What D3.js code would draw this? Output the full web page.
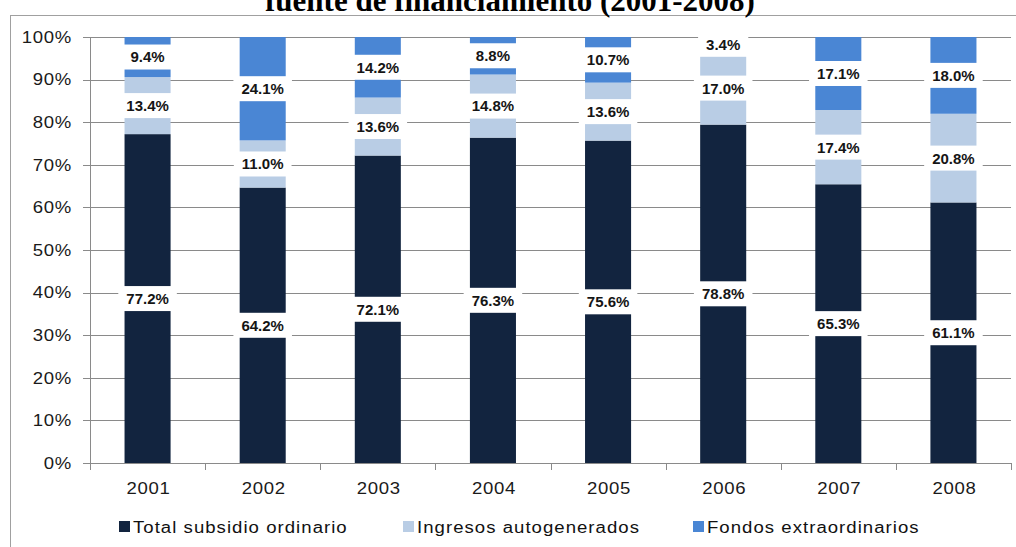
<!DOCTYPE html>
<html>
<head>
<meta charset="utf-8">
<script src="https://cdnjs.cloudflare.com/ajax/libs/d3/7.8.5/d3.min.js"></script>
<style>
  html, body { margin: 0; padding: 0; background: #fff; }
  svg { display: block; }
</style>
</head>
<body>
<div id="chart"></div>
<script>
// Years on the x axis
const years = ['2001', '2002', '2003', '2004', '2005', '2006', '2007', '2008'];

// Share of each source (%)
const subsidioOrdinario = [77.2, 64.2, 72.1, 76.3, 75.6, 78.8, 65.3, 61.1];
const ingresosAutogenerados = [13.4, 11.0, 13.6, 14.8, 13.6, 17.0, 17.4, 20.8];
const fondosExtraordinarios = [9.4, 24.1, 14.2, 8.8, 10.7, 3.4, 17.1, 18.0];

const seriesNames = ['Total subsidio ordinario', 'Ingresos autogenerados', 'Fondos extraordinarios'];
const yTicks = [0, 10, 20, 30, 40, 50, 60, 70, 80, 90, 100];
const titleText = 'fuente de financiamiento (2001-2008)';

function financingChart() {
  const width = 1016;
  const height = 547;

  const colors = ['#12243f', '#b9cde5', '#4a86d4'];
  const sansFont = '"Liberation Sans", Arial, sans-serif';
  // the source picture is stretched a little horizontally
  const stretch = 'scale(1.16,1)';

  const left = 90;
  const right = 1011;
  const top = 37;
  const bottom = 463;

  let svg = d3.select('#chart')
    .append('svg')
      .attr('width', width)
      .attr('height', height);

  // outer frame
  svg.append('rect')
      .attr('x', 10.5)
      .attr('y', 15.5)
      .attr('width', 1030)
      .attr('height', 560)
      .attr('fill', '#fff')
      .attr('stroke', '#a0a0a0');

  // title, cut at the top edge like the source
  svg.append('text')
      .attr('x', 510)
      .attr('y', 11)
      .attr('text-anchor', 'middle')
      .attr('font-family', '"Liberation Serif", "Times New Roman", serif')
      .attr('font-weight', 'bold')
      .attr('font-size', 31)
      .attr('fill', '#000')
      .text(titleText);

  let rows = years.map(function(year, i) {
    return {
      year: year,
      s0: subsidioOrdinario[i],
      s1: ingresosAutogenerados[i],
      s2: fondosExtraordinarios[i],
    };
  });

  let stack = d3.stack()
      .keys(['s0', 's1', 's2'])
      .offset(d3.stackOffsetExpand);
  let stacked = stack(rows);

  let x = d3.scaleBand()
      .domain(years)
      .range([left, right])
      .paddingInner(0.6)
      .paddingOuter(0.3);

  let y = d3.scaleLinear()
      .domain([0, 1])
      .range([bottom, top]);

  let g = svg.append('g');

  // horizontal grid lines + y ticks
  g.selectAll('line.grid')
      .data(yTicks)
    .enter()
    .append('line')
      .attr('class', 'grid')
      .attr('x1', left - 7)
      .attr('x2', right)
      .attr('y1', function(d) {
        return Math.round(y(d / 100)) + 0.5;
      })
      .attr('y2', function(d) {
        return Math.round(y(d / 100)) + 0.5;
      })
      .attr('stroke', '#8a8a8a')
      .attr('stroke-width', 1);

  g.selectAll('text.ylab')
      .data(yTicks)
    .enter()
    .append('text')
      .attr('class', 'ylab')
      .attr('transform', function(d) {
        return 'translate(72,' + y(d / 100) + ') ' + stretch;
      })
      .attr('dy', '0.36em')
      .attr('text-anchor', 'end')
      .attr('font-family', sansFont)
      .attr('font-size', 16)
      .attr('letter-spacing', 0.6)
      .attr('fill', '#1a1a1a')
      .text(function(d) {
        return d + '%';
      });

  // y axis line
  g.append('line')
      .attr('x1', left + 0.5)
      .attr('x2', left + 0.5)
      .attr('y1', top)
      .attr('y2', bottom + 7)
      .attr('stroke', '#8a8a8a');

  // x ticks at band boundaries
  let step = x.step();
  let boundaries = d3.range(years.length + 1).map(function(i) {
    return left + i * step;
  });
  g.selectAll('line.xtick')
      .data(boundaries)
    .enter()
    .append('line')
      .attr('class', 'xtick')
      .attr('x1', function(d) { return Math.round(d) + 0.5; })
      .attr('x2', function(d) { return Math.round(d) + 0.5; })
      .attr('y1', bottom)
      .attr('y2', bottom + 7)
      .attr('stroke', '#8a8a8a');

  g.selectAll('text.xlab')
      .data(years)
    .enter()
    .append('text')
      .attr('class', 'xlab')
      .attr('transform', function(d) {
        return 'translate(' + (x(d) + x.bandwidth() / 2 + 1) + ',494) ' + stretch;
      })
      .attr('text-anchor', 'middle')
      .attr('font-family', sansFont)
      .attr('font-size', 16)
      .attr('letter-spacing', 0.6)
      .attr('fill', '#1a1a1a')
      .text(function(d) {
        return d;
      });

  // bars
  let layers = g.selectAll('g.layer')
      .data(stacked)
    .enter()
    .append('g')
      .attr('class', 'layer')
      .attr('fill', function(d, i) {
        return colors[i];
      });

  layers.selectAll('rect')
      .data(function(d) {
        return d;
      })
    .enter()
    .append('rect')
      .attr('x', function(d) {
        return x(d.data.year);
      })
      .attr('y', function(d) {
        return y(d[1]);
      })
      .attr('width', x.bandwidth())
      .attr('height', function(d) {
        return y(d[0]) - y(d[1]);
      });

  // value labels in white boxes
  let labels = [];
  stacked.forEach(function(layer) {
    layer.forEach(function(d) {
      labels.push({
        year: d.data.year,
        mid: (d[0] + d[1]) / 2,
        value: d.data[layer.key],
      });
    });
  });

  let labelGroups = g.selectAll('g.vlab')
      .data(labels)
    .enter()
    .append('g')
      .attr('class', 'vlab')
      .attr('transform', function(d) {
        return 'translate(' + (x(d.year) + x.bandwidth() / 2) + ',' + y(d.mid) + ')';
      });

  labelGroups.append('text')
      .attr('text-anchor', 'middle')
      .attr('dy', '0.36em')
      .attr('font-family', sansFont)
      .attr('font-weight', 'bold')
      .attr('font-size', 15)
      .attr('fill', '#151515')
      .text(function(d) {
        return d.value.toFixed(1) + '%';
      });

  labelGroups.each(function() {
    let grp = d3.select(this);
    let w = grp.select('text').node().getComputedTextLength();
    grp.insert('rect', 'text')
        .attr('x', -w / 2 - 8)
        .attr('y', -12.5)
        .attr('width', w + 16)
        .attr('height', 25)
        .attr('fill', '#fff');
  });

  // legend
  let legendX = [119, 403, 693];
  let legend = svg.selectAll('g.legend')
      .data(seriesNames)
    .enter()
    .append('g')
      .attr('class', 'legend')
      .attr('transform', function(d, i) {
        return 'translate(' + legendX[i] + ',521)';
      });

  legend.append('rect')
      .attr('width', 11)
      .attr('height', 11)
      .attr('fill', function(d, i) {
        return colors[i];
      });

  legend.append('text')
      .attr('transform', 'translate(14,11.5) ' + stretch)
      .attr('font-family', sansFont)
      .attr('font-size', 16)
      .attr('letter-spacing', 0.9)
      .attr('fill', '#111')
      .text(function(d) {
        return d;
      });
}

financingChart();
</script>
</body>
</html>
